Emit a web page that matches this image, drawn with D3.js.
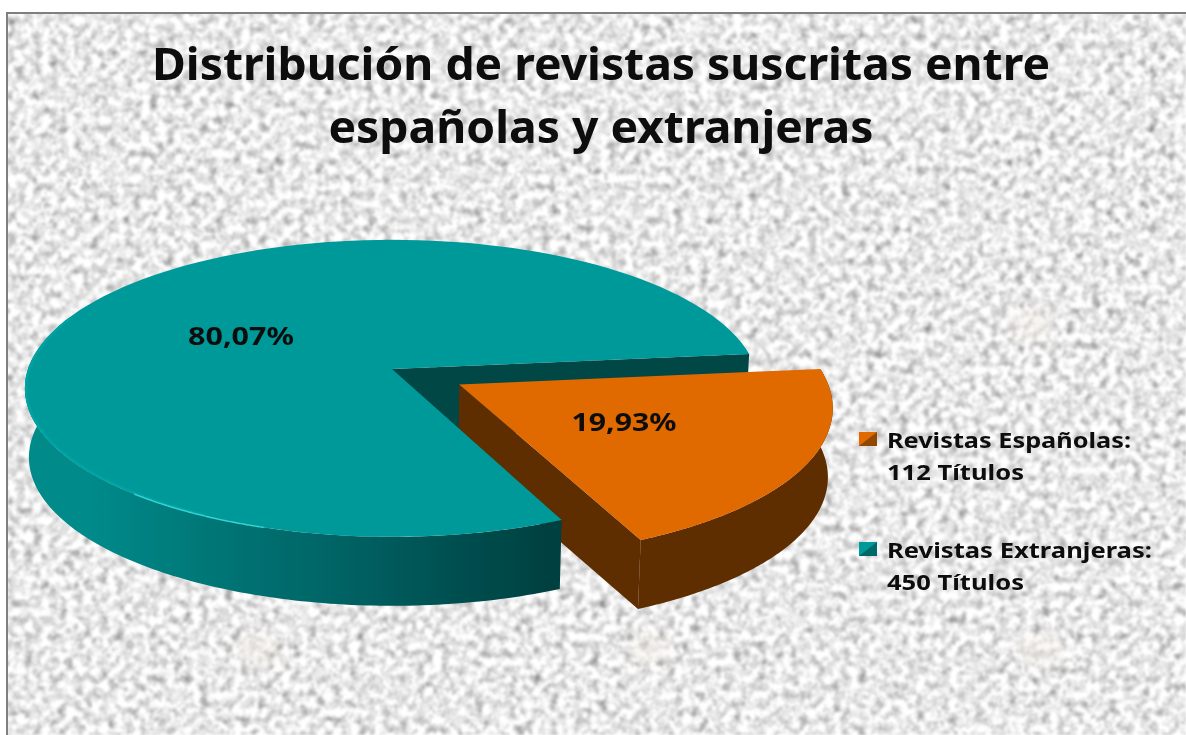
<!DOCTYPE html>
<html><head><meta charset="utf-8">
<script src="https://cdn.jsdelivr.net/npm/d3@7"></script>
<style>html,body{margin:0;padding:0;background:#fff;overflow:hidden}svg{display:block}</style>
</head><body>
<svg id="c" width="1186" height="735"></svg>
<script>
const categories = ["Revistas Españolas","Revistas Extranjeras"];
const titles = [112, 450];
const percentLabels = ["19,93%","80,07%"];
const legendFirst = ["Revistas Españolas:","Revistas Extranjeras:"];
const legendSecond = ["112 Títulos","450 Títulos"];
const titleLines = ["Distribución de revistas suscritas entre","españolas y extranjeras"];
const topColors = ["#e06a05","#009999"];
const wallColors = ["#5e2e00","#004745"];

const svg = d3.select("#c");
const defs = svg.append("defs");
const F = "'Noto Sans','Open Sans',sans-serif";

const f = defs.append("filter").attr("id","granite").attr("x",0).attr("y",0).attr("width","100%").attr("height","100%").attr("color-interpolation-filters","sRGB");
f.append("feTurbulence").attr("type","fractalNoise").attr("baseFrequency",0.12).attr("numOctaves",4).attr("seed",7);
f.append("feColorMatrix").attr("values","0.42 0.42 0.42 0 0.28  0.42 0.42 0.42 0 0.28  0.42 0.42 0.42 0 0.28  0 0 0 0 1");
f.append("feGaussianBlur").attr("stdDeviation",1);
const soft = defs.append("filter").attr("id","soft");
soft.append("feGaussianBlur").attr("stdDeviation",0.55);
const softer = defs.append("filter").attr("id","softer").attr("x","-30%").attr("y","-30%").attr("width","160%").attr("height","160%");
softer.append("feGaussianBlur").attr("stdDeviation",6);

const sideGrad = defs.append("linearGradient").attr("id","tealSide").attr("gradientUnits","userSpaceOnUse").attr("x1",24).attr("x2",560).attr("y1",0).attr("y2",0);
[[0,"#008a8a"],[.12,"#008a8a"],[.35,"#007676"],[.6,"#006263"],[.8,"#004f50"],[1,"#003f3f"]].forEach(s=>sideGrad.append("stop").attr("offset",s[0]).attr("stop-color",s[1]));

const W=1186,H=735;
svg.append("rect").attr("width",W).attr("height",H).attr("fill","#fff");
svg.append("rect").attr("x",6).attr("y",12).attr("width",W-6).attr("height",H-12).attr("filter","url(#granite)");
const watermarks=[[1030,325],[260,650],[650,650],[1040,650]];
svg.selectAll("ellipse.wm").data(watermarks).join("ellipse").attr("class","wm").attr("cx",d=>d[0]).attr("cy",d=>d[1]).attr("rx",22).attr("ry",18).attr("fill","#f4ede2").attr("opacity",.35).attr("filter","url(#softer)");
svg.append("rect").attr("x",7).attr("y",13).attr("width",W+10).attr("height",H+10).attr("fill","none").attr("stroke","#7f7f7f").attr("stroke-width",2);

// perspective projection of the tilted disc
const top3d = {cx:392,cy:369,A:364,B:146,k:.13};
const bot3d = {cx:392,cy:438,A:360,B:146,k:.13};
const proj = (p,u,v)=>{const d=1+p.k*v;return [p.cx+p.A*u/d,p.cy-p.B*v/d];};

const pie = d3.pie().sort(null).value(d=>d).startAngle(84*Math.PI/180).endAngle((84+360)*Math.PI/180);
const arcs = pie(titles);
const lineGen = d3.line();
const N=120;
const arcPts=(p,a0,a1,ox,oy)=>d3.range(N+1).map(i=>{const t=a0+(a1-a0)*i/N;return proj(p,Math.sin(t)+ox,Math.cos(t)+oy);});
const path=pts=>lineGen(pts)+"Z";

const [oa,ta]=arcs;
const mid=(oa.startAngle+oa.endAngle)/2, ex=.21;
const ox=Math.sin(mid)*ex, oy=Math.cos(mid)*ex;
const g=svg.append("g").attr("filter","url(#soft)");

const tStart=ta.startAngle, tEnd=ta.endAngle;
const topPath=path([proj(top3d,0,0),...arcPts(top3d,tStart,tEnd,0,0)]);
defs.append("clipPath").attr("id","topClip").append("path").attr("d",topPath);

// back wall of the large slice
g.append("path").attr("fill",wallColors[1]).attr("d",path([proj(top3d,0,0),proj(top3d,Math.sin(tEnd),Math.cos(tEnd)),proj(bot3d,Math.sin(tEnd),Math.cos(tEnd)),proj(bot3d,0,0)]));

// exploded slice
const oS=oa.startAngle,oE=oa.endAngle;
g.append("path").attr("fill",wallColors[0]).attr("d",path([proj(top3d,ox,oy),proj(top3d,Math.sin(oE)+ox,Math.cos(oE)+oy),proj(bot3d,Math.sin(oE)+ox,Math.cos(oE)+oy),proj(bot3d,ox,oy)]));
g.append("path").attr("fill",wallColors[0]).attr("d",path([...arcPts(top3d,oS,oE,ox,oy),...arcPts(bot3d,oE,oS,ox,oy)]));
g.append("path").attr("fill",topColors[0]).attr("d",path([proj(top3d,ox,oy),...arcPts(top3d,oS,oE,ox,oy)]));

// large slice: visible rim, then top, then bevel highlights
const rimEnd=Math.PI*1.53;
g.append("path").attr("fill","url(#tealSide)").attr("d",path([...arcPts(top3d,tStart,rimEnd,0,0),...arcPts(bot3d,rimEnd,tStart,0,0)]));
g.append("path").attr("fill",topColors[1]).attr("d",topPath);
g.append("path").attr("fill","none").attr("stroke","#00a3a3").attr("stroke-width",5).attr("clip-path","url(#topClip)").attr("d",lineGen(arcPts(top3d,Math.PI*1.15,Math.PI*1.62,0,0)));
g.append("path").attr("fill","none").attr("stroke","#3fe0e0").attr("stroke-width",1.5).attr("opacity",.8).attr("d",lineGen(arcPts(top3d,Math.PI*1.1,Math.PI*1.22,0,0)));

// slice labels
const labelAt=[[624,422],[241,336]];
const labelLen=[105,106];
svg.selectAll("text.pct").data(percentLabels).join("text").attr("class","pct")
 .attr("x",(d,i)=>labelAt[i][0]).attr("y",(d,i)=>labelAt[i][1]).attr("dy",".36em")
 .attr("text-anchor","middle").attr("font-family",F).attr("font-weight",700).attr("font-size",25).attr("fill","#111")
 .attr("textLength",(d,i)=>labelLen[i]).attr("lengthAdjust","spacingAndGlyphs").attr("filter","url(#soft)").text(d=>d);

// title
const titleLen=[898,545];
svg.selectAll("text.ttl").data(titleLines).join("text").attr("class","ttl")
 .attr("x",601).attr("y",(d,i)=>80+i*63).attr("text-anchor","middle").attr("font-family",F).attr("font-weight",700)
 .attr("font-size",44).attr("fill","#0a0a0a").attr("textLength",(d,i)=>titleLen[i]).attr("lengthAdjust","spacingAndGlyphs")
 .attr("filter","url(#soft)").text(d=>d);

// legend
const firstLen=[244,265], secondLen=[137,137];
const leg=svg.selectAll("g.leg").data(categories).join("g").attr("class","leg").attr("transform",(d,i)=>`translate(859,${439+i*110})`).attr("filter","url(#soft)");
leg.append("rect").attr("y",-7).attr("width",18).attr("height",14).attr("fill",(d,i)=>topColors[i]);
leg.append("path").attr("d","M0,7L9,0L18,-7L18,7Z").attr("fill",(d,i)=>wallColors[i]).attr("opacity",.6);
leg.append("text").attr("x",28).attr("y",9).attr("font-family",F).attr("font-weight",700).attr("font-size",21).attr("fill","#111").attr("textLength",(d,i)=>firstLen[i]).attr("lengthAdjust","spacingAndGlyphs").text((d,i)=>legendFirst[i]);
leg.append("text").attr("x",28).attr("y",41).attr("font-family",F).attr("font-weight",700).attr("font-size",21).attr("fill","#111").attr("textLength",(d,i)=>secondLen[i]).attr("lengthAdjust","spacingAndGlyphs").text((d,i)=>legendSecond[i]);
</script>
</body></html>
